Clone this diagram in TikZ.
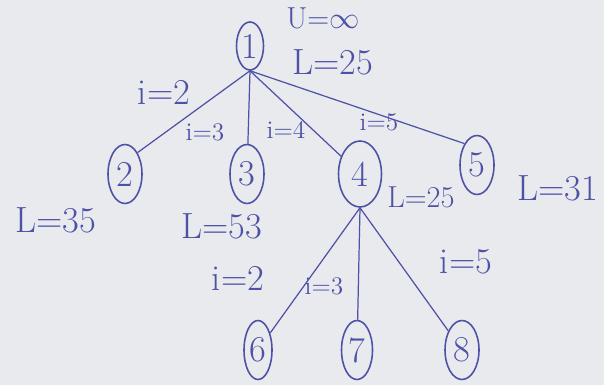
\documentclass[tikz,border=0pt]{standalone}
\usepackage{xcolor}
\usepackage{tikz}
\usetikzlibrary{shapes.geometric}
\definecolor{paperGrey}{HTML}{E9EAEE}
\definecolor{inkBlue}{HTML}{4E52A6}
\tikzset{
  treenode/.style={ellipse, draw=inkBlue, line width=0.9pt, text=inkBlue, font=\huge, inner sep=0pt, minimum width=0.68cm, minimum height=1.18cm},
  treeedge/.style={draw=inkBlue, line width=0.7pt},
  boundlabel/.style={font=\huge, text=inkBlue, inner sep=1pt},
  branchlabel/.style={font=\Large, text=inkBlue, inner sep=1pt},
}
\begin{document}
\begin{tikzpicture}[x=0.02cm,y=-0.02cm]
      \fill[paperGrey] (0,0) rectangle (604,385);
      \useasboundingbox (0,0) rectangle (604,385);

      \node[treenode, minimum width=0.54cm, minimum height=0.96cm] (n1) at (250,46) {1};
      \node[treenode] (n2) at (125,174) {2};
      \node[treenode] (n3) at (247,174) {3};
      \node[treenode, minimum width=0.86cm, minimum height=1.32cm] (n4) at (360,174) {4};
      \node[treenode] (n5) at (477,165) {5};
      \node[treenode, minimum width=0.56cm] (n6) at (258,350) {6};
      \node[treenode, minimum width=0.62cm] (n7) at (357,350) {7};
      \node[treenode] (n8) at (462,350) {8};

      \draw[treeedge] (n1.south) -- (n2.north east);
      \draw[treeedge] (n1.south) -- (n3);
      \draw[treeedge] (n1.south) -- (n4);
      \draw[treeedge] (n1.south) -- (n5.north west);
      \draw[treeedge] (n4.south) -- (n6);
      \draw[treeedge] (n4.south) -- (n7);
      \draw[treeedge] (n4.south) -- (n8);

      \node[boundlabel, font=\LARGE] (u1) at (323,18) {U=$\infty$};
      \node[boundlabel] (l1) at (333,62) {L=25};
      \node[boundlabel] (l2) at (56,220) {L=35};
      \node[boundlabel] (l3) at (222,226) {L=53};
      \node[boundlabel, font=\LARGE] (l4) at (421,197) {L=25};
      \node[boundlabel, anchor=east] (l5) at (600,188) {L=31};

      \node[boundlabel] (e12) at (164,92) {i=2};
      \node[branchlabel] (e13) at (205,132) {i=3};
      \node[branchlabel] (e14) at (286,130) {i=4};
      \node[branchlabel] (e15) at (379,122) {i=5};
      \node[boundlabel] (e46) at (238,278) {i=2};
      \node[branchlabel] (e47) at (324,286) {i=3};
      \node[boundlabel] (e48) at (466,262) {i=5};
    \end{tikzpicture}
\end{document}
